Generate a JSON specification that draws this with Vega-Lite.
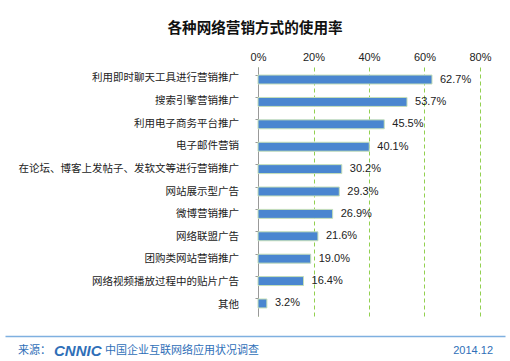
{
  "$schema": "https://vega.github.io/schema/vega-lite/v6.json",
  "background": "white",
  "padding": {"left": 5, "right": 5, "top": 21, "bottom": 1},
  "title": {"text": "各种网络营销方式的使用率", "font": "Noto Sans CJK SC", "fontSize": 14.6, "fontWeight": "bold", "color": "#111111", "anchor": "middle", "offset": 15},
  "config": {"view": {"stroke": null}},
  "datasets": {
    "ways": [
      {"way": "利用即时聊天工具进行营销推广", "rate": 0.627},
      {"way": "搜索引擎营销推广", "rate": 0.537},
      {"way": "利用电子商务平台推广", "rate": 0.455},
      {"way": "电子邮件营销", "rate": 0.401},
      {"way": "在论坛、博客上发帖子、发软文等进行营销推广", "rate": 0.302},
      {"way": "网站展示型广告", "rate": 0.293},
      {"way": "微博营销推广", "rate": 0.269},
      {"way": "网络联盟广告", "rate": 0.216},
      {"way": "团购类网站营销推广", "rate": 0.19},
      {"way": "网络视频播放过程中的贴片广告", "rate": 0.164},
      {"way": "其他", "rate": 0.032}
    ],
    "footer": [
      {"t": "来源：", "pos": 0, "part": "a"},
      {"t": "CNNIC", "pos": 0, "part": "b"},
      {"t": "中国企业互联网络应用状况调查", "pos": 0, "part": "c"},
      {"t": "2014.12", "pos": 1, "part": "d"}
    ]
  },
  "vconcat": [
    {
      "spacing": 11,
      "hconcat": [
        {
          "width": 234,
          "height": 249,
          "data": {"name": "ways"},
          "mark": {"type": "text", "align": "right", "baseline": "middle", "font": "Noto Sans CJK SC", "fontSize": 10.5, "color": "#222222"},
          "encoding": {
            "y": {"field": "way", "type": "nominal", "sort": null,
              "scale": {"paddingInner": 0.6, "paddingOuter": 0.36}, "axis": null},
            "x": {"datum": 1, "type": "quantitative", "scale": {"domain": [0, 1]}, "axis": null},
            "text": {"field": "way"}
          }
        },
        {
          "width": 222,
          "height": 249,
          "data": {"name": "ways"},
          "encoding": {
            "y": {"field": "way", "type": "nominal", "sort": null,
              "scale": {"paddingInner": 0.6, "paddingOuter": 0.36},
              "axis": {"title": null, "labels": false, "domainColor": "#999999", "tickColor": "#999999", "tickSize": 3, "bandPosition": 0, "grid": false}},
            "x": {"field": "rate", "type": "quantitative",
              "scale": {"domain": [0, 0.8]},
              "axis": {"orient": "top", "title": null, "values": [0, 0.2, 0.4, 0.6, 0.8], "format": ".0%", "labelFlush": false,
                "labelFont": "Liberation Sans", "labelFontSize": 11, "labelColor": "#222222", "labelPadding": 5,
                "domain": false, "ticks": false, "grid": true, "gridColor": "#92d050", "gridDash": [4, 3], "gridWidth": 1}}
          },
          "layer": [
            {"mark": {"type": "bar", "color": "#4a86d0", "stroke": "#c5dfb8", "strokeWidth": 1}},
            {"mark": {"type": "text", "align": "left", "dx": 8, "font": "Liberation Sans", "fontSize": 11, "color": "#222222"},
              "encoding": {"text": {"field": "rate", "type": "quantitative", "format": ".1%"}}}
          ]
        }
      ]
    },
    {
      "width": 500,
      "height": 22,
      "data": {"name": "footer"},
      "encoding": {
        "x": {"field": "pos", "type": "quantitative", "scale": {"domain": [0, 1]},
          "axis": {"orient": "top", "title": null, "labels": false, "ticks": false, "grid": false, "domainColor": "#7fb0e0", "domainWidth": 1.5}}
      },
      "layer": [
        {"transform": [{"filter": "datum.part === 'a'"}],
          "mark": {"type": "text", "align": "left", "dx": 13, "dy": 4, "font": "Noto Sans CJK SC", "fontSize": 11, "color": "#2f6fb8"},
          "encoding": {"text": {"field": "t"}}},
        {"transform": [{"filter": "datum.part === 'b'"}],
          "mark": {"type": "text", "align": "left", "dx": 49, "dy": 4, "font": "Liberation Sans", "fontSize": 15, "fontWeight": "bold", "fontStyle": "italic", "color": "#2f6fb8"},
          "encoding": {"text": {"field": "t"}}},
        {"transform": [{"filter": "datum.part === 'c'"}],
          "mark": {"type": "text", "align": "left", "dx": 100, "dy": 4, "font": "Noto Sans CJK SC", "fontSize": 11, "color": "#2f6fb8"},
          "encoding": {"text": {"field": "t"}}},
        {"transform": [{"filter": "datum.part === 'd'"}],
          "mark": {"type": "text", "align": "right", "dx": -12, "dy": 4, "font": "Liberation Sans", "fontSize": 11, "color": "#2f6fb8"},
          "encoding": {"text": {"field": "t"}}}
      ]
    }
  ]
}
